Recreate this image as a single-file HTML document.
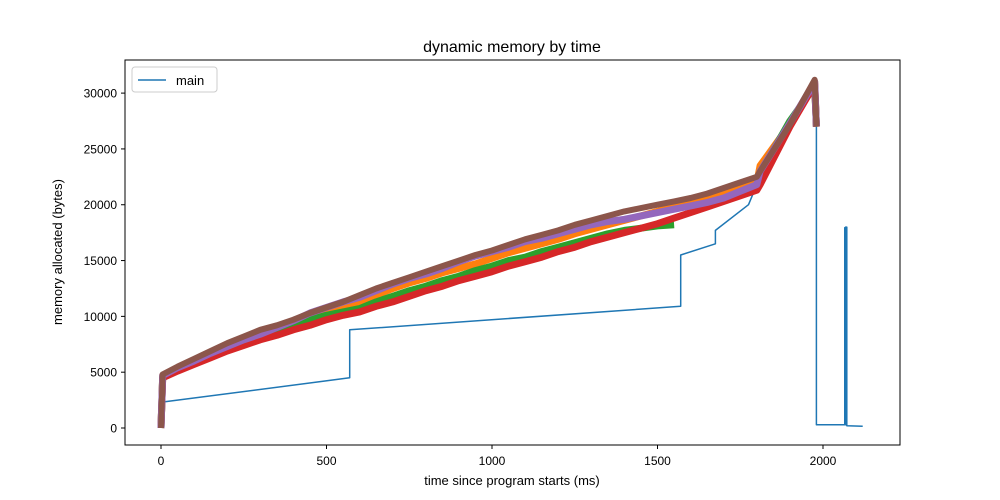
<!DOCTYPE html>
<html><head><meta charset="utf-8"><style>
body{margin:0;background:#fff;}
svg{display:block;font-family:"Liberation Sans","DejaVu Sans",sans-serif;}
</style></head><body>
<svg id="c" width="1000" height="500">
<rect x="0" y="0" width="1000" height="500" fill="#fff"/>
<text x="512" y="52" font-size="16" text-anchor="middle">dynamic memory by time</text>
<text x="512" y="485" font-size="13" text-anchor="middle">time since program starts (ms)</text>
<text transform="translate(62,252) rotate(-90)" font-size="13" text-anchor="middle">memory allocated (bytes)</text>
<g id="plot"></g>
<rect x="125" y="60" width="775" height="385" fill="none" stroke="#000" stroke-width="1"/>
<g id="axes"></g>
<g>
<rect x="132" y="67" width="85" height="25" rx="3" fill="#fff" stroke="#ccc"/>
<line x1="138" y1="80" x2="166" y2="80" stroke="#1f77b4" stroke-width="1.5"/>
<text x="176" y="85" font-size="13">main</text>
</g>
</svg>
<script>
const xTicks=[0,500,1000,1500,2000];
const yTicks=[0,5000,10000,15000,20000,25000,30000];
const mainT=[0,0,570,570,1570,1570,1675,1675,1775,1810,1975,1980,1980,2068,2068,2072,2072,2120];
const mainV=[0,2300,4500,8800,10900,15500,16500,17700,20000,22500,31000,27000,300,300,18000,18000,200,150];
const seriesT=[0,5,50,100,150,200,250,300,350,400,450,500,550,600,650,700,750,800,850,900,950,1000,1050,1100,1150,1200,1250,1300,1350,1400,1450,1500,1550,1600,1650,1700,1750,1800,1810,1900,1975,1980];
const orangeV=[0,4700,5400,6000,6700,7400,8000,8600,9100,9600,10200,10600,11000,11300,11900,12500,13000,13400,13900,14300,14700,15200,15700,16100,16500,16900,17400,17800,18200,18600,19000,19400,19900,20200,20600,21000,21500,22000,23500,27200,31000,27000];
const greenV=[0,4600,5300,5900,6600,7200,7700,8200,8700,9200,9700,10100,10400,10700,11300,11800,12300,12700,13200,13600,14100,14500,15000,15300,15800,16200,16600,17000,17400,17700,17900,18100,18200,null,null,null,null,null,22800,27500,30600,27000];
const redV=[0,4500,5100,5700,6300,6900,7400,7900,8300,8800,9200,9700,10100,10400,10900,11300,11800,12300,12700,13200,13600,14000,14500,14900,15300,15800,16200,16700,17100,17500,17900,18300,18800,19300,19800,20300,20800,21300,21800,27000,30800,27000];
const purpleV=[0,4700,5400,6000,6700,7300,7900,8400,9000,9600,10300,10800,11300,11700,12300,12900,13400,13800,14300,14900,15400,15800,16200,16700,17000,17400,17800,18200,18500,18700,19000,19300,19600,19900,20200,20600,21200,21800,23000,27300,31000,27000];
const brownV=[0,4800,5500,6200,6900,7600,8200,8800,9200,9700,10300,10800,11300,11900,12500,13000,13500,14000,14500,15000,15500,15900,16400,16900,17300,17700,18200,18600,19000,19400,19700,20000,20300,20600,21000,21500,22000,22500,23000,27200,31200,27000];
const X=t=>161+t*0.331, Y=v=>428-v*0.011163;
const ns="http://www.w3.org/2000/svg";
const plot=document.getElementById('plot'), axes=document.getElementById('axes');
function line(ts,vs,color,w,name){
  let d="",pen=false;
  ts.forEach((t,i)=>{const v=vs[i]; if(v==null){pen=false;return;} d+=(pen?"L":"M")+X(t).toFixed(1)+","+Y(v).toFixed(1); pen=true;});
  const p=document.createElementNS(ns,'path');
  p.setAttribute('d',d);p.setAttribute('fill','none');p.setAttribute('stroke',color);p.setAttribute('stroke-width',w);p.setAttribute('stroke-linejoin','round');
  
  
  plot.appendChild(p);
}
line(mainT,mainV,'#1f77b4',1.5,'series-main');
line(seriesT,orangeV,'#ff7f0e',7,'series-orange');
line(seriesT,greenV,'#2ca02c',7,'series-green');
line(seriesT,redV,'#d62728',7,'series-red');
line(seriesT,purpleV,'#9467bd',7,'series-purple');
line(seriesT,brownV,'#8c564b',6,'series-brown');
line([2068,2068],[300,18000],'#1f77b4',3,'series-main-spike');
xTicks.forEach(t=>{
  const l=document.createElementNS(ns,'line');
  l.setAttribute('x1',X(t));l.setAttribute('x2',X(t));l.setAttribute('y1',445);l.setAttribute('y2',449);l.setAttribute('stroke','#000');
  
  
  axes.appendChild(l);
  const tx=document.createElementNS(ns,'text');
  tx.setAttribute('x',X(t));tx.setAttribute('y',465);tx.setAttribute('font-size','12');tx.setAttribute('text-anchor','middle');tx.textContent=t;
  
  
  axes.appendChild(tx);
});
yTicks.forEach(v=>{
  const l=document.createElementNS(ns,'line');
  l.setAttribute('x1',121);l.setAttribute('x2',125);l.setAttribute('y1',Y(v));l.setAttribute('y2',Y(v));l.setAttribute('stroke','#000');
  
  
  axes.appendChild(l);
  const tx=document.createElementNS(ns,'text');
  tx.setAttribute('x',117);tx.setAttribute('y',Y(v)+4.5);tx.setAttribute('font-size','12');tx.setAttribute('text-anchor','end');tx.textContent=v;
  
  
  axes.appendChild(tx);
});
</script>
</body></html>
